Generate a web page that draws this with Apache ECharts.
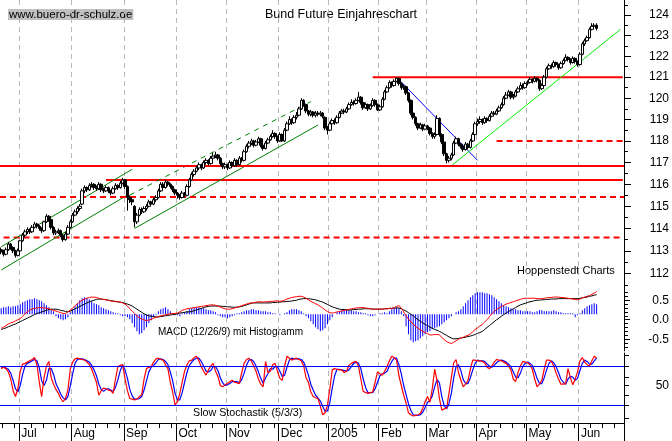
<!DOCTYPE html>
<html><head><meta charset="utf-8">
<script src="https://cdn.jsdelivr.net/npm/echarts@6/dist/echarts.min.js"></script>
<style>html,body{margin:0;padding:0;background:#fff}#c{width:672px;height:441px}</style>
</head><body><div id="c"></div>
<script>
// ---------- data ----------
const monthKeys = ['2004-07','2004-08','2004-09','2004-10','2004-11','2004-12','2005-01','2005-02','2005-03','2005-04','2005-05','2005-06'];
const monthNames = ['Jul','Aug','Sep','Oct','Nov','Dec','2005','Feb','Mar','Apr','May','Jun'];
const holidays = ['2004-12-24','2004-12-31','2005-03-25','2005-03-28'];
const firstDay = '2004-06-21', lastDay = '2005-06-27';

const priceTicks = [112,113,114,115,116,117,118,119,120,121,122,123,124];
const priceMinorTicks = [111.5,112.5,113.5,114.5,115.5,116.5,117.5,118.5,119.5,120.5,121.5,122.5,123.5,124.5];
const macdTicks = [-0.5,0,0.5];
const macdMinorTicks = [-0.7,-0.6,-0.4,-0.3,-0.2,-0.1,0.1,0.2,0.3,0.4,0.6,0.7];
const stochTicks = [0,20,35,50,63,80,97];
const stochLabels = [50];

// [open, close, low, high]
const ohlc = [
[113.05,112.95,112.85,113.15],[112.95,112.85,112.75,113.05],[112.85,113.05,112.80,113.15],[113.05,113.30,113.00,113.40],[113.30,113.15,113.05,113.35],
[113.15,113.00,112.90,113.20],[113.00,112.80,112.70,113.05],[112.80,113.00,112.75,113.10],[113.00,113.45,112.95,113.50],[113.45,113.70,113.40,113.80],
[113.70,113.85,113.60,113.95],[113.85,113.95,113.75,114.05],[113.95,113.85,113.75,114.00],[113.85,114.05,113.80,114.15],[114.05,114.20,114.00,114.30],
[114.20,114.10,114.00,114.25],[114.10,114.00,113.90,114.15],[114.00,113.90,113.80,114.05],[113.90,114.30,113.85,114.35],[114.30,114.55,114.25,114.65],
[114.55,114.40,114.30,114.60],[114.40,114.05,113.95,114.45],[114.05,113.80,113.70,114.10],[113.80,113.85,113.70,113.95],[113.85,113.90,113.75,114.00],
[113.90,113.70,113.60,113.95],[113.70,113.50,113.40,113.75],[113.50,113.75,113.45,113.85],[113.75,114.05,113.70,114.15],[114.05,114.30,114.00,114.40],
[114.30,114.60,114.25,114.70],[114.60,114.75,114.55,114.85],[114.75,114.90,114.65,115.00],[114.90,115.00,114.80,115.10],[115.10,115.70,115.05,115.80],
[115.70,115.85,115.60,115.95],[115.85,115.75,115.65,115.90],[115.75,115.95,115.70,116.05],[115.95,116.00,115.85,116.10],[116.00,115.85,115.75,116.05],
[115.85,115.80,115.70,115.95],[115.80,116.00,115.75,116.10],[116.00,115.75,115.65,116.05],[115.75,115.70,115.60,115.85],[115.70,115.85,115.65,115.95],
[115.85,115.70,115.60,115.90],[115.70,115.60,115.50,115.75],[115.60,115.80,115.55,115.90],[115.80,115.95,115.75,116.05],[115.95,115.85,115.75,116.00],
[115.85,116.05,115.80,116.15],[116.05,116.20,116.00,116.30],[116.20,115.90,115.80,116.25],[115.90,115.40,114.80,115.95],[115.40,115.30,115.15,115.50],
[115.30,115.20,115.05,115.40],[115.00,114.30,114.05,115.05],[114.30,114.60,114.20,114.70],[114.60,114.85,114.55,114.95],[114.85,114.75,114.65,114.95],
[114.75,114.90,114.70,115.00],[114.90,115.00,114.80,115.10],[115.00,115.20,114.95,115.30],[115.20,115.10,115.00,115.25],[115.10,115.30,115.05,115.40],
[115.30,115.40,115.20,115.50],[115.40,115.70,115.35,115.80],[115.70,116.00,115.65,116.10],[116.00,115.85,115.75,116.10],[115.85,116.10,115.80,116.20],
[116.10,116.00,115.90,116.15],[116.00,115.90,115.80,116.05],[115.90,115.75,115.65,115.95],[115.75,115.60,115.50,115.80],[115.60,115.50,115.35,115.65],
[115.50,115.40,115.30,115.55],[115.40,115.60,115.35,115.70],[115.60,115.50,115.40,115.65],[115.50,115.90,115.45,116.00],[115.90,116.20,115.85,116.30],
[116.20,116.45,116.15,116.55],[116.45,116.60,116.35,116.70],[116.60,116.75,116.55,116.85],[116.75,116.90,116.65,117.00],[116.90,116.75,116.65,116.95],
[116.75,117.00,116.70,117.10],[117.00,117.10,116.90,117.20],[117.10,116.95,116.85,117.15],[116.95,117.20,116.90,117.30],[117.20,117.30,117.10,117.45],
[117.30,117.35,117.20,117.50],[117.35,117.20,117.10,117.40],[117.20,116.95,116.85,117.25],[116.95,116.80,116.70,117.00],[116.80,116.90,116.70,117.00],
[116.90,116.75,116.65,116.95],[116.75,117.00,116.70,117.10],[117.00,116.85,116.75,117.05],[116.85,117.10,116.80,117.20],[117.10,116.90,116.80,117.15],
[116.90,117.20,116.85,117.30],[117.20,117.10,117.00,117.25],[117.10,117.50,117.05,117.60],[117.50,117.75,117.45,117.85],[117.75,117.90,117.65,118.00],
[117.90,118.00,117.80,118.10],[118.00,117.80,117.70,118.05],[117.80,117.95,117.75,118.05],[117.95,118.10,117.90,118.20],[118.10,117.80,117.70,118.15],
[117.80,117.65,117.55,117.85],[117.65,117.90,117.60,118.00],[117.90,118.05,117.85,118.15],[118.05,118.20,118.00,118.30],[118.20,118.35,118.15,118.50],
[118.35,118.20,118.10,118.40],[118.20,118.00,117.90,118.25],[118.00,118.30,117.95,118.40],[118.30,118.00,117.95,118.35],[118.00,118.50,117.95,118.60],
[118.50,118.80,118.45,118.90],[118.80,119.00,118.75,119.15],[119.00,118.85,118.75,119.05],[118.85,119.10,118.80,119.20],[119.10,119.20,119.00,119.35],
[119.20,119.50,119.15,119.60],[119.50,119.90,119.45,120.00],[119.90,119.70,119.60,119.95],[119.70,119.40,119.30,119.75],[119.40,119.25,119.15,119.45],
[119.25,119.35,119.15,119.45],[119.35,119.20,119.10,119.40],[119.20,119.30,119.10,119.40],[119.30,119.25,119.15,119.40],[119.25,119.30,119.15,119.40],
[119.30,119.15,119.05,119.35],[119.10,118.60,118.50,119.15],[118.60,118.50,118.30,118.70],[118.50,118.80,118.45,118.90],[118.80,118.95,118.70,119.05],
[118.95,118.85,118.75,119.05],[118.85,119.10,118.80,119.20],[119.10,119.30,119.05,119.40],[119.30,119.40,119.25,119.50],[119.40,119.35,119.25,119.50],
[119.35,119.50,119.30,119.60],[119.50,119.70,119.45,119.80],[119.70,119.80,119.65,119.95],[119.80,119.75,119.65,119.90],[119.75,119.90,119.70,120.00],
[119.90,120.05,119.85,120.30],[120.05,119.80,119.70,120.10],[119.80,119.55,119.45,119.85],[119.55,119.70,119.50,119.80],[119.70,119.50,119.40,119.75],
[119.50,119.65,119.45,119.75],[119.65,119.90,119.60,120.00],[119.90,119.70,119.60,119.95],[119.70,119.45,119.40,119.75],[119.45,119.60,119.40,119.70],
[119.60,119.95,119.55,120.05],[119.95,120.30,119.90,120.40],[120.30,120.50,120.25,120.60],[120.50,120.75,120.45,120.85],[120.75,120.60,120.50,120.80],
[120.60,120.80,120.55,120.90],[120.80,120.95,120.75,121.00],[120.95,120.70,120.60,120.95],[120.70,120.50,120.40,120.75],[120.50,120.55,120.40,120.65],
[120.55,120.25,120.15,120.60],[120.25,119.90,119.80,120.30],[119.90,119.30,119.20,119.95],[119.30,119.10,119.00,119.40],[119.10,118.80,118.70,119.15],
[118.80,118.60,118.50,118.85],[118.60,118.75,118.55,118.85],[118.75,118.55,118.45,118.80],[118.55,118.70,118.50,118.80],[118.70,118.60,118.50,118.75],
[118.60,118.35,118.25,118.65],[118.35,118.20,118.10,118.40],[118.20,118.30,118.10,118.40],[118.30,119.05,118.25,119.20],[119.05,118.30,118.20,119.10],
[118.30,117.95,117.85,118.35],[117.95,117.40,117.30,118.00],[117.40,117.10,116.96,117.45],[117.10,117.20,117.00,117.30],[117.20,117.35,117.10,117.45],
[117.35,117.90,117.30,118.00],[117.90,118.10,117.85,118.20],[118.10,117.85,117.75,118.15],[117.85,117.75,117.65,117.90],[117.75,117.60,117.50,117.80],
[117.60,117.85,117.55,117.95],[117.85,117.70,117.60,117.90],[117.70,118.00,117.65,118.10],[118.00,118.30,117.95,118.40],[118.30,118.80,118.25,118.90],
[118.80,118.90,118.70,119.05],[118.90,119.00,118.80,119.15],[119.00,118.85,118.75,119.05],[118.85,119.05,118.80,119.15],[119.05,118.95,118.85,119.10],
[118.95,119.15,118.90,119.25],[119.15,119.30,119.10,119.40],[119.30,119.25,119.15,119.40],[119.25,119.40,119.20,119.50],[119.40,119.55,119.35,119.65],
[119.55,119.70,119.50,119.80],[119.70,120.00,119.65,120.10],[120.00,120.15,119.95,120.30],[120.15,120.30,120.10,120.40],[120.30,120.05,119.95,120.35],
[120.05,120.10,119.95,120.20],[120.10,120.30,120.05,120.40],[120.30,120.45,120.25,120.55],[120.45,120.60,120.40,120.75],[120.60,120.50,120.40,120.70],
[120.50,120.70,120.45,120.80],[120.70,120.75,120.60,120.85],[120.75,120.90,120.70,121.00],[120.90,120.80,120.70,120.95],[120.80,120.95,120.75,121.05],
[120.95,120.85,120.75,121.00],[120.85,120.45,120.35,120.90],[120.45,120.60,120.40,120.70],[120.60,121.00,120.55,121.10],[121.00,121.40,120.95,121.50],
[121.40,121.55,121.35,121.65],[121.55,121.50,121.40,121.65],[121.50,121.70,121.45,121.80],[121.70,121.60,121.50,121.75],[121.60,121.45,121.35,121.65],
[121.45,121.65,121.40,121.75],[121.65,121.80,121.60,121.90],[121.80,121.95,121.75,122.10],[121.95,121.85,121.75,122.00],[121.85,121.70,121.60,121.90],
[121.70,121.90,121.65,122.00],[121.90,121.75,121.65,121.95],[121.75,121.60,121.50,121.80],[121.60,122.10,121.55,122.20],[122.10,122.60,122.05,122.70],
[122.60,122.75,122.50,122.85],[122.75,122.90,122.70,123.00],[122.90,123.30,122.85,123.40],[123.30,123.45,123.25,123.60],[123.45,123.50,123.35,123.60],
[123.50,123.35,123.25,123.60]
];

const macdLine = [
-0.22,-0.19,-0.15,-0.11,-0.08,-0.06,-0.03,0,0.03,0.09,
0.15,0.2,0.25,0.27,0.29,0.3,0.31,0.31,0.3,0.3,
0.28,0.26,0.24,0.22,0.2,0.18,0.16,0.16,0.2,0.25,
0.3,0.36,0.41,0.46,0.5,0.53,0.55,0.57,0.58,0.58,
0.57,0.55,0.53,0.52,0.51,0.5,0.48,0.47,0.46,0.46,
0.45,0.43,0.4,0.35,0.28,0.22,0.16,0.1,0.05,0.02,
-0.01,-0.02,-0.01,0.01,0.04,0.06,0.08,0.1,0.11,0.13,
0.14,0.15,0.16,0.16,0.17,0.2,0.24,0.26,0.28,0.29,
0.3,0.31,0.32,0.33,0.34,0.35,0.36,0.37,0.38,0.38,
0.37,0.35,0.32,0.3,0.28,0.27,0.27,0.28,0.3,0.32,
0.34,0.36,0.38,0.4,0.42,0.43,0.44,0.45,0.46,0.46,
0.45,0.46,0.46,0.47,0.47,0.48,0.48,0.47,0.48,0.5,
0.53,0.55,0.57,0.58,0.59,0.6,0.6,0.58,0.55,0.51,
0.47,0.44,0.41,0.38,0.34,0.3,0.25,0.21,0.18,0.17,
0.18,0.2,0.21,0.22,0.24,0.25,0.26,0.28,0.29,0.3,
0.31,0.31,0.31,0.3,0.29,0.28,0.27,0.27,0.27,0.27,
0.27,0.28,0.28,0.29,0.29,0.31,0.34,0.36,0.3,0.2,
0.1,0.02,-0.05,-0.12,-0.17,-0.22,-0.26,-0.3,-0.33,-0.36,
-0.39,-0.39,-0.38,-0.38,-0.39,-0.45,-0.51,-0.56,-0.59,-0.61,
-0.58,-0.54,-0.5,-0.47,-0.45,-0.42,-0.4,-0.36,-0.31,-0.25,
-0.21,-0.16,-0.12,-0.06,0,0.08,0.15,0.21,0.26,0.3,
0.34,0.37,0.4,0.42,0.44,0.46,0.48,0.5,0.52,0.54,
0.55,0.55,0.55,0.55,0.55,0.54,0.54,0.54,0.55,0.56,
0.57,0.57,0.58,0.58,0.58,0.57,0.57,0.56,0.55,0.54,
0.53,0.52,0.51,0.53,0.56,0.58,0.6,0.62,0.65,0.68,
0.72];

const signalLine = [
-0.25,-0.23,-0.21,-0.18,-0.16,-0.13,-0.11,-0.08,-0.05,-0.02,
0.01,0.04,0.07,0.1,0.13,0.16,0.18,0.2,0.22,0.24,
0.26,0.27,0.27,0.27,0.26,0.24,0.23,0.21,0.2,0.22,
0.25,0.28,0.31,0.34,0.37,0.4,0.43,0.46,0.48,0.5,
0.52,0.53,0.53,0.52,0.51,0.5,0.49,0.48,0.47,0.46,
0.45,0.44,0.42,0.4,0.38,0.35,0.31,0.27,0.23,0.19,
0.15,0.12,0.1,0.09,0.08,0.07,0.07,0.08,0.09,0.1,
0.11,0.12,0.13,0.14,0.15,0.17,0.18,0.19,0.2,0.2,
0.21,0.23,0.25,0.27,0.29,0.31,0.33,0.34,0.35,0.35,
0.35,0.35,0.35,0.34,0.34,0.33,0.33,0.32,0.32,0.32,
0.33,0.34,0.36,0.38,0.4,0.42,0.43,0.43,0.43,0.43,
0.43,0.43,0.43,0.43,0.44,0.44,0.45,0.45,0.46,0.46,
0.47,0.47,0.48,0.49,0.5,0.52,0.53,0.54,0.54,0.54,
0.53,0.52,0.51,0.49,0.47,0.45,0.42,0.39,0.36,0.33,
0.31,0.29,0.27,0.26,0.26,0.25,0.25,0.25,0.26,0.26,
0.27,0.27,0.28,0.28,0.28,0.28,0.27,0.27,0.27,0.27,
0.27,0.28,0.28,0.29,0.29,0.3,0.3,0.3,0.28,0.25,
0.22,0.18,0.14,0.1,0.05,0,-0.04,-0.08,-0.12,-0.15,
-0.19,-0.22,-0.25,-0.27,-0.3,-0.33,-0.37,-0.4,-0.44,-0.47,
-0.49,-0.49,-0.48,-0.47,-0.46,-0.45,-0.43,-0.42,-0.4,-0.38,
-0.35,-0.33,-0.3,-0.25,-0.2,-0.15,-0.1,-0.05,0,0.04,
0.09,0.13,0.17,0.21,0.24,0.28,0.31,0.35,0.38,0.4,
0.42,0.44,0.46,0.47,0.49,0.5,0.5,0.51,0.51,0.52,
0.52,0.53,0.53,0.53,0.54,0.54,0.54,0.54,0.54,0.54,
0.54,0.54,0.54,0.55,0.56,0.57,0.58,0.6,0.61,0.63,
0.64];

const histogram = [
.06,.07,.07,.08,.07,.08,.08,.09,
.10,.12,.13,.14,.15,.15,.16,.15,.14,.13,
.11,.09,.07,.05,.03,
-.02,-.04,-.05,-.06,-.05,-.03,
.02,.05,.08,.11,
.14,.16,.17,.16,.15,.13,.11,
.10,.09,.07,.06,.05,.04,.03,.02,.01,.01,
-.01,-.02,-.02,-.03,-.05,
-.09,-.13,-.17,-.20,-.19,
-.16,-.13,-.09,-.06,-.03,-.01,
.03,.05,.06,.07,.05,.03,.01,
-.01,-.01,-.02,.01,.02,.03,
.05,.06,.07,.07,.07,.06,.06,.05,.04,.04,.03,.02,
-.01,-.02,-.03,-.03,-.04,-.03,-.02,-.01,.01,.01,.02,
.03,.04,.04,.05,.05,.04,.04,.03,.03,.03,.02,.02,.01,.01,
0,-.01,0,.01,.02,.04,.05,.05,.05,.04,.03,.01,
-.02,-.04,-.07,-.10,-.13,-.15,-.17,-.16,-.14,-.10,-.06,-.03,0,.02,.03,
.04,.05,.05,.04,.04,.03,.03,.02,.02,.01,.01,
-.01,-.02,-.02,-.01,0,.01,.01,.02,.01,.03,.05,
.06,.07,.06,.03,-.02,
-.12,-.20,-.26,-.28,-.27,-.26,-.24,
-.22,-.20,-.18,-.17,-.15,-.14,-.13,-.12,-.10,-.08,-.06,-.04,
-.02,0,.02,.03,.05,
.08,.11,.14,.17,.19,.21,
.22,.22,.22,.21,.21,.20,.19,.17,.15,
.13,.11,.09,.08,.07,.06,.05,.05,.04,.04,.03,.03,
.03,.03,.02,.02,.03,.04,.04,.03,.03,.03,.03,.04,.03,.02,.02,.01,.01,.01,.01,.01,
-.03,-.01,.01,
.04,.06,.08,.09,.10,.11,.10];

const stochK = [
76,78,76,71,60,42,33,45,72,83,
84,86,88,90,93,82,55,33,62,80,
87,62,52,44,38,30,25,30,43,75,
86,91,92,91,90,89,86,82,75,65,
55,35,42,46,45,43,42,38,60,79,
81,82,60,42,30,29,28,29,33,36,
60,76,78,79,86,91,92,90,89,82,
76,55,40,20,25,38,55,72,82,88,
89,93,95,88,79,72,66,74,80,84,
72,64,50,48,51,53,56,58,55,54,
53,70,84,90,92,88,80,72,60,52,
48,87,70,72,82,84,72,61,58,80,
95,92,89,91,92,90,88,80,62,55,
40,33,31,30,18,5,8,20,45,74,
76,75,74,74,70,72,81,84,86,87,
80,60,41,39,38,39,40,55,71,68,
66,72,79,88,95,93,89,65,50,35,
23,8,5,3,4,5,7,15,25,33,
24,45,75,58,30,12,14,15,38,62,
85,90,70,58,48,52,58,75,89,89,
88,88,87,85,78,76,80,86,90,89,
88,86,84,80,74,60,56,70,80,87,
86,85,82,75,60,48,52,58,75,89,
89,87,80,69,60,52,52,53,76,62,
51,60,71,88,93,86,82,80,88,95,
92];

const stochD = [
78,78,77,75,69,58,45,40,50,67,
80,84,86,88,90,88,77,57,50,58,
76,76,67,53,45,37,31,28,33,49,
68,84,90,91,91,90,88,86,81,74,
65,52,44,41,44,45,43,41,47,59,
73,81,74,61,44,34,29,29,30,33,
43,57,71,78,81,85,90,91,90,87,
82,71,57,38,28,28,39,55,70,81,
86,90,92,92,87,80,72,71,73,79,
79,73,62,54,50,51,53,56,56,56,
54,59,69,81,89,90,87,80,71,61,
53,62,68,76,75,79,79,72,64,66,
78,89,92,91,91,91,90,86,77,66,
52,43,35,31,26,18,10,11,24,46,
65,75,75,74,73,72,74,79,84,86,
84,76,60,47,39,39,39,45,55,65,
68,69,72,80,87,92,92,82,68,50,
36,22,12,5,4,4,5,9,16,24,
27,34,48,59,54,33,19,14,22,38,
62,79,82,73,59,53,53,62,74,84,
89,88,88,87,83,80,78,81,85,88,
89,88,86,83,79,71,63,62,69,79,
84,86,84,81,72,61,53,53,62,74,
84,88,85,79,70,60,55,52,60,64,
63,58,61,73,84,89,87,83,83,88,
92];

// overlays on the price panel: [category index, price]
const fullSolidLevels = [116.85];
const fullDashedLevels = [115.45];
const partialSolidLevels = [[156, 121.0], [44, 116.2]];   // [start index, price]
const partialDashedLevels = [[208, 118.0], [1, 113.6]];
const channelSolid = [
  [[0, 113.18], [55, 116.69]],
  [[0, 112.15], [53, 115.51]],
  [[56, 114.0], [133, 118.74]]
];
const channelDashed = [[[54, 115.51], [130, 119.84]]];
const downTrend = [[166, 121.0], [200, 117.1]];
const upTrend = [[189, 116.85], [260, 123.3]];
const stochLevels = [80, 20];

// ---------- build categories (trading days) ----------
const dates = [], monthPos = [];
(function () {
  const d = new Date(Date.UTC(2004, 5, 1));
  const end = new Date(lastDay + 'T00:00:00Z');
  let cur = '', pos = 0;
  while (d <= end) {
    const wd = d.getUTCDay();
    const s = d.toISOString().slice(0, 10);
    if (wd !== 0 && wd !== 6 && holidays.indexOf(s) < 0) {
      const m = s.slice(0, 7);
      if (m !== cur) { cur = m; pos = 0; } else pos++;
      if (s >= firstDay) { dates.push(s); monthPos.push(pos); }
    }
    d.setUTCDate(d.getUTCDate() + 1);
  }
})();
const lastIdx = dates.length - 1;
const monthLabel = {};
monthKeys.forEach((k, i) => monthLabel[k] = monthNames[i]);

const FONT = '"Liberation Sans", Arial, sans-serif';
const isMonth = (i) => monthPos[i] === 0;
const isWeek = (i) => monthPos[i] % 5 === 0 && monthPos[i] !== 0;

function catAxis(gridIndex, extra) {
  return Object.assign({
    type: 'category', gridIndex: gridIndex, data: dates, boundaryGap: true, position: 'bottom',
    axisLine: { show: false, onZero: false }, axisTick: { show: false }, axisLabel: { show: false },
    splitLine: { show: true, interval: isMonth, lineStyle: { color: '#b8b8b8', type: [5, 4], width: 1 } }
  }, extra || {});
}
function yAx(gridIndex, type, min, max, tickVals, tickLen, labelVals, fmt) {
  return {
    type: type, gridIndex: gridIndex, position: 'right', min: min, max: max,
    axisLine: { show: true, onZero: false, lineStyle: { color: '#000', width: 1 } },
    axisTick: { show: true, customValues: tickVals, length: tickLen, lineStyle: { color: '#000' } },
    axisLabel: labelVals ? { show: true, customValues: labelVals, align: 'right', margin: 45, padding: [4, 0, 0, 0],
      color: '#000', fontSize: 12, fontFamily: FONT, formatter: fmt } : { show: false },
    splitLine: { show: false }, splitArea: { show: false }
  };
}

const series = [];
function seg(points, color, width, type, z) {
  series.push({ type: 'line', xAxisIndex: 0, yAxisIndex: 0, data: points, symbol: 'none', silent: true,
    animation: false, z: z || 3, lineStyle: { color: color, width: width, type: type || 'solid' } });
}
partialSolidLevels.forEach(l => seg([[l[0], l[1]], [lastIdx, l[1]]], '#ff0000', 2, 'solid'));
partialDashedLevels.forEach(l => seg([[l[0], l[1]], [lastIdx, l[1]]], '#ff0000', 2, [6, 4]));
channelSolid.forEach(l => seg(l, '#008000', 1, 'solid'));
channelDashed.forEach(l => seg(l, '#008000', 1, [5, 5]));
seg(downTrend, '#0000ff', 1, 'solid');
seg(upTrend, '#00ee00', 1, 'solid');

series.push({
  type: 'candlestick', xAxisIndex: 0, yAxisIndex: 0, data: ohlc, barWidth: 3, z: 5, silent: true,
  itemStyle: { color: '#ffffff', color0: '#000000', borderColor: '#000000', borderColor0: '#000000', borderColorDoji: '#000', borderWidth: 1 },
  markLine: {
    silent: true, symbol: ['none', 'none'], label: { show: false }, animation: false,
    data: fullSolidLevels.map(v => ({ yAxis: v, lineStyle: { color: '#ff0000', width: 2, type: 'solid' } }))
      .concat(fullDashedLevels.map(v => ({ yAxis: v, lineStyle: { color: '#ff0000', width: 2, type: [6, 4] } })))
  }
});

series.push({ type: 'bar', xAxisIndex: 1, yAxisIndex: 4, data: histogram, barWidth: 1, silent: true,
  itemStyle: { color: '#0000ff' } });
series.push({ type: 'line', xAxisIndex: 1, yAxisIndex: 2, data: signalLine, symbol: 'none', silent: true,
  lineStyle: { color: '#000000', width: 1 } });
series.push({ type: 'line', xAxisIndex: 1, yAxisIndex: 2, data: macdLine, symbol: 'none', silent: true,
  lineStyle: { color: '#ff0000', width: 1 } });

series.push({ type: 'line', xAxisIndex: 2, yAxisIndex: 5, data: stochD, symbol: 'none', silent: true,
  lineStyle: { color: '#0000ff', width: 1.2 },
  markLine: { silent: true, symbol: ['none', 'none'], label: { show: false }, animation: false,
    data: stochLevels.map(v => ({ yAxis: v, lineStyle: { color: '#0000ff', width: 1, type: 'solid' } })) } });
series.push({ type: 'line', xAxisIndex: 2, yAxisIndex: 5, data: stochK, symbol: 'none', silent: true,
  lineStyle: { color: '#ff0000', width: 1.2 } });

const option = {
  animation: false,
  backgroundColor: '#ffffff',
  grid: [
    { left: 0, top: 0, width: 624, height: 290 },
    { left: 0, top: 290.45, width: 624, height: 60.45 },
    { left: 0, top: 353, width: 624, height: 70 }
  ],
  xAxis: [
    catAxis(0), catAxis(1),
    catAxis(2, { axisLine: { show: true, onZero: false, lineStyle: { color: '#000' } },
      axisTick: { show: true, interval: isWeek, length: 5, lineStyle: { color: '#000' } } }),
    catAxis(2, { splitLine: { show: false },
      axisTick: { show: true, interval: isMonth, length: 18, lineStyle: { color: '#000' } },
      axisLabel: { show: true, interval: isMonth, align: 'left', margin: 5, padding: [0, 0, 0, 1],
        color: '#000', fontSize: 12, fontFamily: FONT, formatter: v => monthLabel[v.slice(0, 7)] || '' } })
  ],
  yAxis: [
    yAx(0, 'log', 111.27, 124.735, priceTicks, 7, priceTicks, v => String(Math.round(v))),
    Object.assign(yAx(0, 'log', 111.27, 124.735, priceMinorTicks, 4, null), { axisLine: { show: false } }),
    yAx(1, 'value', -0.8, 0.75, macdTicks, 6, macdTicks, v => Number(v).toFixed(1)),
    Object.assign(yAx(1, 'value', -0.8, 0.75, macdMinorTicks, 4, null), { axisLine: { show: false } }),
    { type: 'value', gridIndex: 1, min: -0.366, max: 0.2385, show: false, splitLine: { show: false } },
    yAx(2, 'value', -7.7, 100, stochTicks, 5, stochLabels, v => String(v))
  ],
  graphic: [
    { type: 'text', x: 8, y: 9, silent: true, style: { text: 'www.buero-dr-schulz.de', font: '11.5px ' + FONT, fill: '#000',
      backgroundColor: '#c0c0c0', padding: [0, 1, 0, 1], lineHeight: 11, textVerticalAlign: 'top' } },
    { type: 'text', x: 341, y: 15, silent: true, style: { text: 'Bund Future Einjahreschart', font: '12.5px ' + FONT, fill: '#000',
      textAlign: 'center', textVerticalAlign: 'middle' } },
    { type: 'text', x: 517, y: 270.5, silent: true, style: { text: 'Hoppenstedt Charts', font: '11px ' + FONT, fill: '#000',
      textAlign: 'left', textVerticalAlign: 'middle' } },
    { type: 'text', x: 158, y: 332, silent: true, style: { text: 'MACD (12/26/9) mit Histogramm', font: '10px ' + FONT, fill: '#000',
      textAlign: 'left', textVerticalAlign: 'middle' } },
    { type: 'text', x: 193, y: 413, silent: true, style: { text: 'Slow Stochastik (5/3/3)', font: '10.7px ' + FONT, fill: '#000',
      textAlign: 'left', textVerticalAlign: 'middle' } }
  ],
  series: series
};
const chart = echarts.init(document.getElementById('c'), null, { renderer: 'canvas', width: 672, height: 441 });
chart.setOption(option);
</script>
</body></html>
